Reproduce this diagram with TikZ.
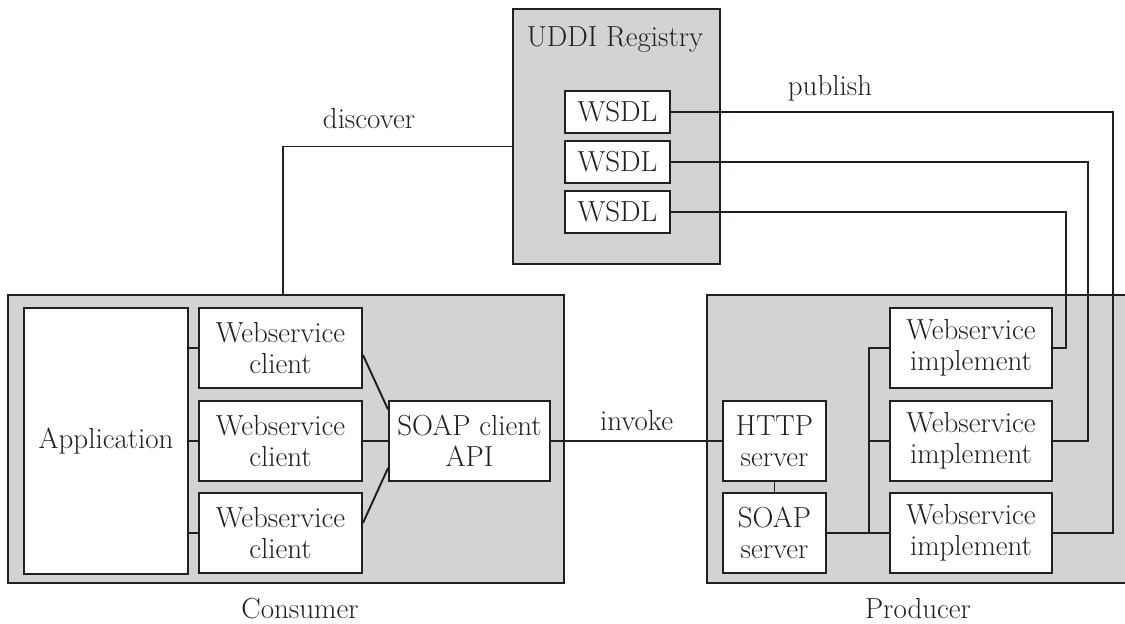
\documentclass[tikz,border=0pt]{standalone}
\usepackage{tikz}
\usetikzlibrary{calc}
\definecolor{boxgray}{RGB}{209,211,213}
\definecolor{ink}{RGB}{35,31,32}

\begin{document}
\begin{tikzpicture}[line width=1.1pt, color=ink]
\fontsize{16.5}{17.5}\selectfont
\tikzstyle{group}=[rectangle, draw=ink, fill=boxgray, inner sep=0pt]
\tikzstyle{box}=[rectangle, draw=ink, fill=white, align=center, inner sep=0pt, minimum height=16mm]
\tikzstyle{wsdl}=[box, minimum width=21mm, minimum height=8.4mm]
\tikzstyle{label}=[text=ink, anchor=base]
\useasboundingbox (0,0) rectangle (22.5,12.48);
\clip (0,0) rectangle (22.5,12.48);
% containers
\node[group, minimum width=41.4mm, minimum height=51mm] (uddi) at (12.33,9.75) {};
\node[label] (uddititle) at (12.30,11.54) {UDDI Registry};
\node[group, minimum width=111.2mm, minimum height=57.6mm] (consumer) at (5.72,3.70) {};
\node[group, minimum width=84.6mm, minimum height=57.6mm] (producer) at (18.37,3.70) {};
% consumer side
\node[box, minimum width=32.8mm, minimum height=53.2mm] (app) at (2.12,3.66) {Application};
\foreach \n/\y in {1/5.52,2/3.66,3/1.82}
    \node[box, minimum width=32.6mm] (c\n) at (5.61,\y) {Webservice\\client};
\node[box, minimum width=32.2mm] (api) at (9.39,3.66) {SOAP client\\API};
% producer side
\node[box, minimum width=20.6mm] (http) at (15.49,3.66) {HTTP\\server};
\node[box, minimum width=20.6mm] (soap) at (15.49,1.82) {SOAP\\server};
\foreach \n/\y in {1/5.52,2/3.66,3/1.82}
    \node[box, minimum width=32.4mm] (m\n) at (19.42,\y) {Webservice\\implement};
% registry
\foreach \n/\y in {1/10.24,2/9.24,3/8.24}
    \node[wsdl] (w\n) at (12.35,\y) {WSDL};
\node[label] (discoverlbl) at (7.38,9.90) {discover};
\node[label] (publishlbl) at (16.60,10.56) {publish};
\node[label] (consumerlbl) at (6.00,0.10) {Consumer};
\node[label] (producerlbl) at (18.36,0.10) {Producer};
% connectors
\coordinate (dsc) at (5.66,9.55);
\draw (consumer.north -| dsc) -- (dsc) -- (dsc -| uddi.west);
\foreach \n in {1,2,3}
    \path (app.east |- c\n) edge (c\n.west);
\draw ($(c1.east)+(0,-0.14)$) -- ($(api.west)+(0,0.63)$);
\draw (c2.east) -- (api.west);
\draw ($(c3.east)+(0,0.2)$) -- ($(api.west)+(0,-0.54)$);
\draw (api.east) -- node[above, text=ink] (invokelbl) {invoke} (http.west);
\draw (http.south) -- (soap.north);
\coordinate (bus) at (17.38,1.82);
\draw (soap.east) -- (m3.west);
\draw (m1.west) -| (bus);
\draw (m2.west) -- (m2.west -| bus);
\foreach \w/\m/\x in {1/3/22.26,2/2/21.76,3/1/21.32}
    {
    \coordinate (v\w) at (\x,0);
    \draw (w\w.east) -- (w\w.east -| v\w) -- (m\m.east -| v\w) -- (m\m.east);
    }
\end{tikzpicture}
\end{document}
